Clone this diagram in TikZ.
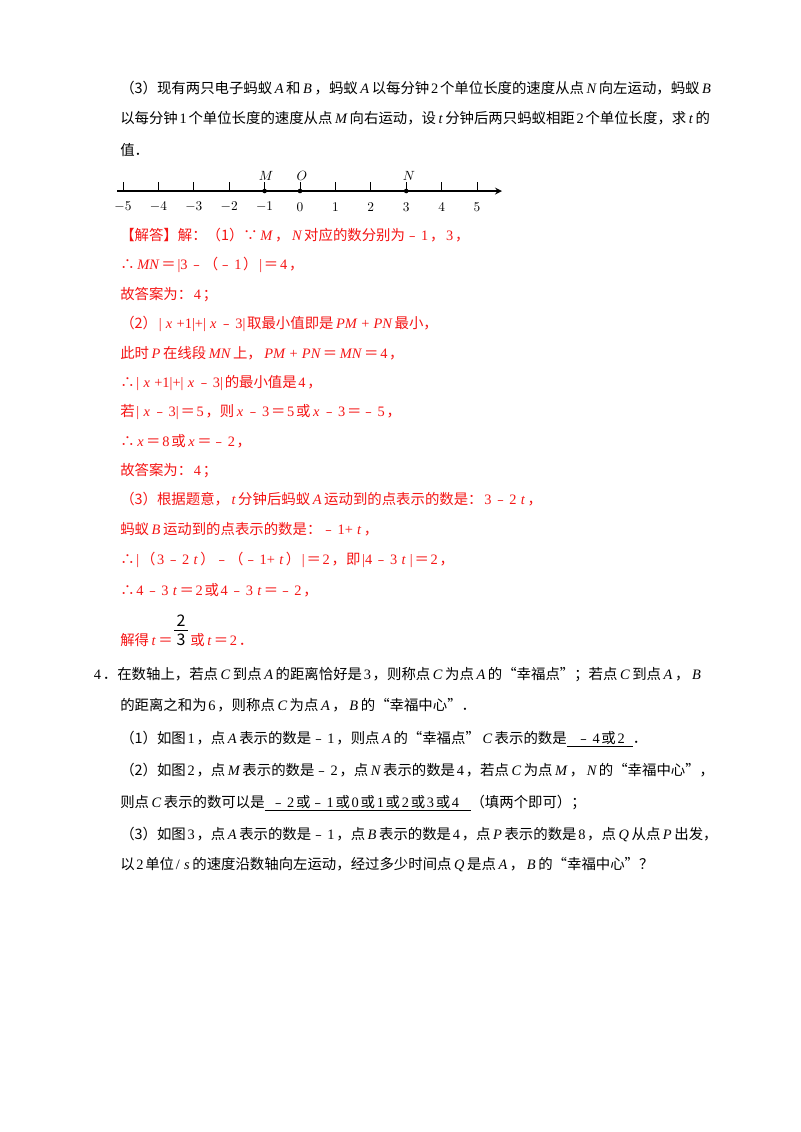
\documentclass[tikz,border=0pt]{standalone}
\usepackage{fontspec}
\setmainfont{Liberation Serif}
\newfontfamily\cjk{Noto Sans CJK SC}
\begin{document}
\begin{tikzpicture}[x=0.75pt,y=-0.75pt,
  t/.style={anchor=base west,inner sep=0pt,font=\fontsize{10.8}{12}\selectfont\cjk},
  r/.style={t,text={rgb,255:red,245;green,20;blue,20}},
  lab/.style={inner sep=0pt,font=\fontsize{10}{12}\selectfont}]
\useasboundingbox[fill=white] (0,0) rectangle (800,1132);
\newcommand{\mi}[1]{\hspace{0.18em}{\fontspec{Liberation Serif}\itshape #1}\hspace{0.18em}}
\newcommand{\ro}[1]{\hspace{0.12em}{\fontspec{Liberation Serif}#1}\hspace{0.12em}}
\node[t] (l1) at (120,93) {（3）现有两只电子蚂蚁\mi{A}和\mi{B}，蚂蚁\mi{A}以每分钟\ro{2}个单位长度的速度从点\mi{N}向左运动，蚂蚁\mi{B}};
\node[t] (l2) at (120,123) {以每分钟\ro{1}个单位长度的速度从点\mi{M}向右运动，设\mi{t}分钟后两只蚂蚁相距\ro{2}个单位长度，求\mi{t}的};
\node[t] (l3) at (120,155) {值．};
% number line
\coordinate (a0) at (117,191);
\coordinate (a1) at (502,191);
\draw[line width=1.3pt,-stealth] (a0) -- (a1);
\foreach \i in {-5,...,5} {
  \draw[line width=0.7pt] (300+35.4*\i,191) -- (300+35.4*\i,182);
  \node[lab] at (300+35.4*\i,207) {$\i$};
}
\fill (264.6,191) circle (2.3) (300,191) circle (2.3) (406.2,191) circle (2.3);
\node[lab] (M) at (266,176) {$M$};
\node[lab] (O) at (302,176) {$O$};
\node[lab] (N) at (409,176) {$N$};
% solution
\node[r] at (120,240) {【解答】解：（1）∵\mi{M}，\mi{N}对应的数分别为﹣\ro{1}，\ro{3}，};
\node[r] at (120,269) {∴\mi{MN}＝\ro{|3}﹣（﹣\ro{1}）\ro{|}＝\ro{4}，};
\node[r] at (120,299) {故答案为：\ro{4}；};
\node[r] at (120,328) {（2）\ro{|}\mi{x}\ro{+1|+|}\mi{x}﹣\ro{3|}取最小值即是\mi{PM}\ro{+}\mi{PN}最小，};
\node[r] at (120,358) {此时\mi{P}在线段\mi{MN}上，\mi{PM}\ro{+}\mi{PN}＝\mi{MN}＝\ro{4}，};
\node[r] at (120,387) {∴\ro{|}\mi{x}\ro{+1|+|}\mi{x}﹣\ro{3|}的最小值是\ro{4}，};
\node[r] at (120,416) {若\ro{|}\mi{x}﹣\ro{3|}＝\ro{5}，则\mi{x}﹣\ro{3}＝\ro{5}或\mi{x}﹣\ro{3}＝﹣\ro{5}，};
\node[r] at (120,446) {∴\mi{x}＝\ro{8}或\mi{x}＝﹣\ro{2}，};
\node[r] at (120,475) {故答案为：\ro{4}；};
\node[r] at (120,504) {（3）根据题意，\mi{t}分钟后蚂蚁\mi{A}运动到的点表示的数是：\ro{3}﹣\ro{2}\mi{t}，};
\node[r] at (120,534) {蚂蚁\mi{B}运动到的点表示的数是：﹣\ro{1+}\mi{t}，};
\node[r] at (120,564) {∴\ro{|}（\ro{3}﹣\ro{2}\mi{t}）﹣（﹣\ro{1+}\mi{t}）\ro{|}＝\ro{2}，即\ro{|4}﹣\ro{3}\mi{t}\ro{|}＝\ro{2}，};
\node[r] at (120,595) {∴\ro{4}﹣\ro{3}\mi{t}＝\ro{2}或\ro{4}﹣\ro{3}\mi{t}＝﹣\ro{2}，};
\node[r] (js) at (120,645) {解得\mi{t}＝};
\node[t,anchor=base,font=\fontsize{12}{12}\selectfont\cjk] (fn) at (181,626) {2};
\node[t,anchor=base,font=\fontsize{12}{12}\selectfont\cjk] (fd) at (181,645) {3};
\draw[line width=0.6pt] (174,630) -- (188,630);
\node[r] at (190,645) {或\mi{t}＝\ro{2}．};
% problem 4
\node[t] at (92,679) {\ro{4}．在数轴上，若点\mi{C}到点\mi{A}的距离恰好是\ro{3}，则称点\mi{C}为点\mi{A}的“幸福点”；若点\mi{C}到点\mi{A}，\mi{B}};
\node[t] at (120,710) {的距离之和为\ro{6}，则称点\mi{C}为点\mi{A}，\mi{B}的“幸福中心”．};
\node[t] at (120,743) {（1）如图\ro{1}，点\mi{A}表示的数是﹣\ro{1}，则点\mi{A}的“幸福点”\mi{C}表示的数是\underline{\ \ \ ﹣\ro{4}或\ro{2}\ \ }．};
\node[t] at (120,775) {（2）如图\ro{2}，点\mi{M}表示的数是﹣\ro{2}，点\mi{N}表示的数是\ro{4}，若点\mi{C}为点\mi{M}，\mi{N}的“幸福中心”，};
\node[t] at (120,807) {则点\mi{C}表示的数可以是\underline{\ \ ﹣\ro{2}或﹣\ro{1}或\ro{0}或\ro{1}或\ro{2}或\ro{3}或\ro{4}\ \ \ }（填两个即可）；};
\node[t] at (120,839) {（3）如图\ro{3}，点\mi{A}表示的数是﹣\ro{1}，点\mi{B}表示的数是\ro{4}，点\mi{P}表示的数是\ro{8}，点\mi{Q}从点\mi{P}出发，};
\node[t] at (120,869) {以\ro{2}单位\ro{/}\mi{s}的速度沿数轴向左运动，经过多少时间点\mi{Q}是点\mi{A}，\mi{B}的“幸福中心”？};
\end{tikzpicture}
\end{document}
